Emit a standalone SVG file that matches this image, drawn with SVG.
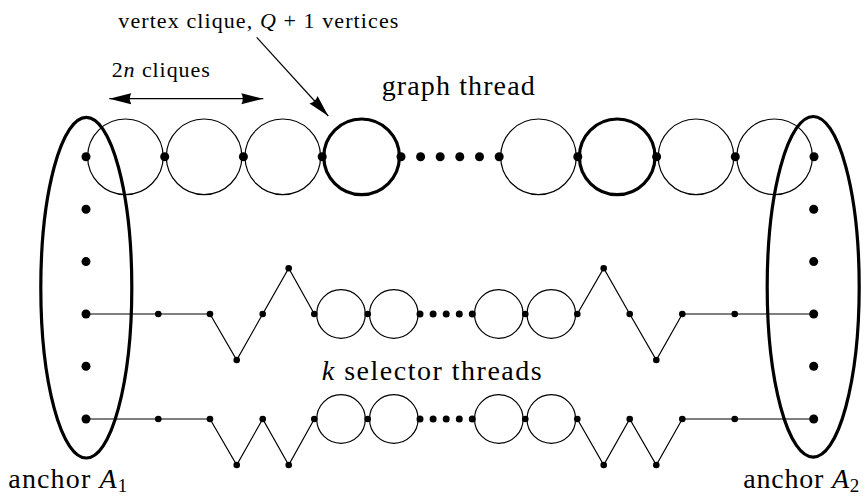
<svg xmlns="http://www.w3.org/2000/svg" width="866" height="502" viewBox="0 0 866 502">
<style>
text{font-family:'Liberation Serif','Times New Roman',serif;fill:#000}
.it{font-style:italic}
.thin{fill:none;stroke:#000;stroke-width:1.2}
.thick{fill:none;stroke:#000;stroke-width:3.2}
.anchor{fill:none;stroke:#000;stroke-width:3.2}
.big{fill:#000}
.sm{fill:#000}
.arr{fill:none;stroke:#000;stroke-width:1.2}
</style>
<defs>
<marker id="ah" markerUnits="userSpaceOnUse" markerWidth="24" markerHeight="12" viewBox="0 0 24 12" refX="22" refY="6" orient="auto-start-reverse">
<path d="M22,6 L0,0.5 Q3,6 0,11.5 Z" fill="#000"/>
</marker>
</defs>
<rect width="866" height="502" fill="#fff"/>

<g id="labels">
<text x="118.3" y="27.7" font-size="22" textLength="280" lengthAdjust="spacing">vertex clique, <tspan class="it">Q</tspan> + 1 vertices</text>
<text x="111.7" y="76.7" font-size="22" textLength="98" lengthAdjust="spacing">2<tspan class="it">n</tspan> cliques</text>
<text x="381.7" y="95" font-size="28" textLength="153" lengthAdjust="spacing">graph thread</text>
<text x="321.7" y="380" font-size="28" textLength="220" lengthAdjust="spacing"><tspan class="it">k</tspan> selector threads</text>
<text x="8.3" y="488.3" font-size="28" textLength="119" lengthAdjust="spacing">anchor <tspan class="it">A</tspan><tspan font-size="19" dy="4">1</tspan></text>
<text x="743.3" y="488.3" font-size="28" textLength="116" lengthAdjust="spacing">anchor <tspan class="it">A</tspan><tspan font-size="19" dy="4">2</tspan></text>
</g>

<g id="connectors">
<line class="arr" x1="109.3" y1="98.7" x2="263.3" y2="98.7" marker-start="url(#ah)" marker-end="url(#ah)"/>
<line class="arr" x1="256.7" y1="37.3" x2="328.3" y2="116" marker-end="url(#ah)"/>
<polyline class="thin" points="86,314 158.3,314 210,314 236.7,360 262.7,314 288.7,268.3 314.3,314"/>
<polyline class="thin" points="577.3,314 603.7,268.3 629.7,314 656.3,360 682.3,314 734.7,314 813.7,314"/>
<polyline class="thin" points="86,419 158.3,419 210,419 236.7,465 262.7,419 288.7,465 314.3,419"/>
<polyline class="thin" points="577.3,419 603.7,465 629.7,419 656.3,465 682.3,419 734.7,419 813.7,419"/>
</g>

<g id="graph-thread">
<circle class="thin" cx="125.4" cy="156.8" r="37.8"/>
<circle class="thin" cx="204.1" cy="156.8" r="37.8"/>
<circle class="thin" cx="282.8" cy="156.8" r="37.8"/>
<circle class="thick" cx="361.6" cy="156.8" r="37.8"/>
<circle class="thin" cx="538.5" cy="156.8" r="37.8"/>
<circle class="thick" cx="617.2" cy="156.8" r="37.8"/>
<circle class="thin" cx="696" cy="156.8" r="37.8"/>
<circle class="thin" cx="774.6" cy="156.8" r="37.8"/>
<circle class="big" cx="164.7" cy="156.8" r="4.5"/>
<circle class="big" cx="243.4" cy="156.8" r="4.5"/>
<circle class="big" cx="322.2" cy="156.8" r="4.5"/>
<circle class="big" cx="401" cy="156.8" r="4.5"/>
<circle class="big" cx="420.6" cy="156.8" r="4.5"/>
<circle class="big" cx="440.2" cy="156.8" r="4.5"/>
<circle class="big" cx="459.8" cy="156.8" r="4.5"/>
<circle class="big" cx="479.5" cy="156.8" r="4.5"/>
<circle class="big" cx="499.2" cy="156.8" r="4.5"/>
<circle class="big" cx="577.8" cy="156.8" r="4.5"/>
<circle class="big" cx="656.6" cy="156.8" r="4.5"/>
<circle class="big" cx="735.3" cy="156.8" r="4.5"/>
</g>

<g id="selector-thread-1">
<circle class="thin" cx="341" cy="314" r="24.3"/>
<circle class="thin" cx="393.8" cy="314" r="24.3"/>
<circle class="thin" cx="498.8" cy="314" r="24.3"/>
<circle class="thin" cx="551.3" cy="314" r="24.3"/>
<circle class="sm" cx="158.3" cy="314" r="3.3"/>
<circle class="sm" cx="210" cy="314" r="3.3"/>
<circle class="sm" cx="236.7" cy="360" r="3.3"/>
<circle class="sm" cx="262.7" cy="314" r="3.3"/>
<circle class="sm" cx="288.7" cy="268.3" r="3.3"/>
<circle class="sm" cx="314.3" cy="314" r="3.3"/>
<circle class="sm" cx="367.7" cy="314" r="3.3"/>
<circle class="sm" cx="420" cy="314" r="3.5"/>
<circle class="sm" cx="433.1" cy="314" r="3.5"/>
<circle class="sm" cx="446.2" cy="314" r="3.5"/>
<circle class="sm" cx="459.3" cy="314" r="3.5"/>
<circle class="sm" cx="472.3" cy="314" r="3.5"/>
<circle class="sm" cx="525.3" cy="314" r="3.3"/>
<circle class="sm" cx="577.3" cy="314" r="3.3"/>
<circle class="sm" cx="603.7" cy="268.3" r="3.3"/>
<circle class="sm" cx="629.7" cy="314" r="3.3"/>
<circle class="sm" cx="656.3" cy="360" r="3.3"/>
<circle class="sm" cx="682.3" cy="314" r="3.3"/>
<circle class="sm" cx="734.7" cy="314" r="3.3"/>
</g>

<g id="selector-thread-2">
<circle class="thin" cx="341" cy="419" r="24.3"/>
<circle class="thin" cx="393.8" cy="419" r="24.3"/>
<circle class="thin" cx="498.8" cy="419" r="24.3"/>
<circle class="thin" cx="551.3" cy="419" r="24.3"/>
<circle class="sm" cx="158.3" cy="419" r="3.3"/>
<circle class="sm" cx="210" cy="419" r="3.3"/>
<circle class="sm" cx="236.7" cy="465" r="3.3"/>
<circle class="sm" cx="262.7" cy="419" r="3.3"/>
<circle class="sm" cx="288.7" cy="465" r="3.3"/>
<circle class="sm" cx="314.3" cy="419" r="3.3"/>
<circle class="sm" cx="367.7" cy="419" r="3.3"/>
<circle class="sm" cx="420" cy="419" r="3.5"/>
<circle class="sm" cx="433.1" cy="419" r="3.5"/>
<circle class="sm" cx="446.2" cy="419" r="3.5"/>
<circle class="sm" cx="459.3" cy="419" r="3.5"/>
<circle class="sm" cx="472.3" cy="419" r="3.5"/>
<circle class="sm" cx="525.3" cy="419" r="3.3"/>
<circle class="sm" cx="577.3" cy="419" r="3.3"/>
<circle class="sm" cx="603.7" cy="465" r="3.3"/>
<circle class="sm" cx="629.7" cy="419" r="3.3"/>
<circle class="sm" cx="656.3" cy="465" r="3.3"/>
<circle class="sm" cx="682.3" cy="419" r="3.3"/>
<circle class="sm" cx="734.7" cy="419" r="3.3"/>
</g>

<g id="anchor-A1">
<ellipse class="anchor" cx="86.3" cy="287.7" rx="45.5" ry="170.3"/>
<circle class="big" cx="86" cy="156.8" r="4.5"/>
<circle class="big" cx="86" cy="209.3" r="4.5"/>
<circle class="big" cx="86" cy="261.6" r="4.5"/>
<circle class="big" cx="86" cy="314" r="4.5"/>
<circle class="big" cx="86" cy="366.3" r="4.5"/>
<circle class="big" cx="86" cy="419" r="4.5"/>
</g>

<g id="anchor-A2">
<ellipse class="anchor" cx="813.2" cy="286.8" rx="46" ry="170.3"/>
<circle class="big" cx="814" cy="156.8" r="4.5"/>
<circle class="big" cx="813.7" cy="209.3" r="4.5"/>
<circle class="big" cx="813.7" cy="261.6" r="4.5"/>
<circle class="big" cx="813.7" cy="314" r="4.5"/>
<circle class="big" cx="813.7" cy="366.3" r="4.5"/>
<circle class="big" cx="813.7" cy="419" r="4.5"/>
</g>
</svg>
